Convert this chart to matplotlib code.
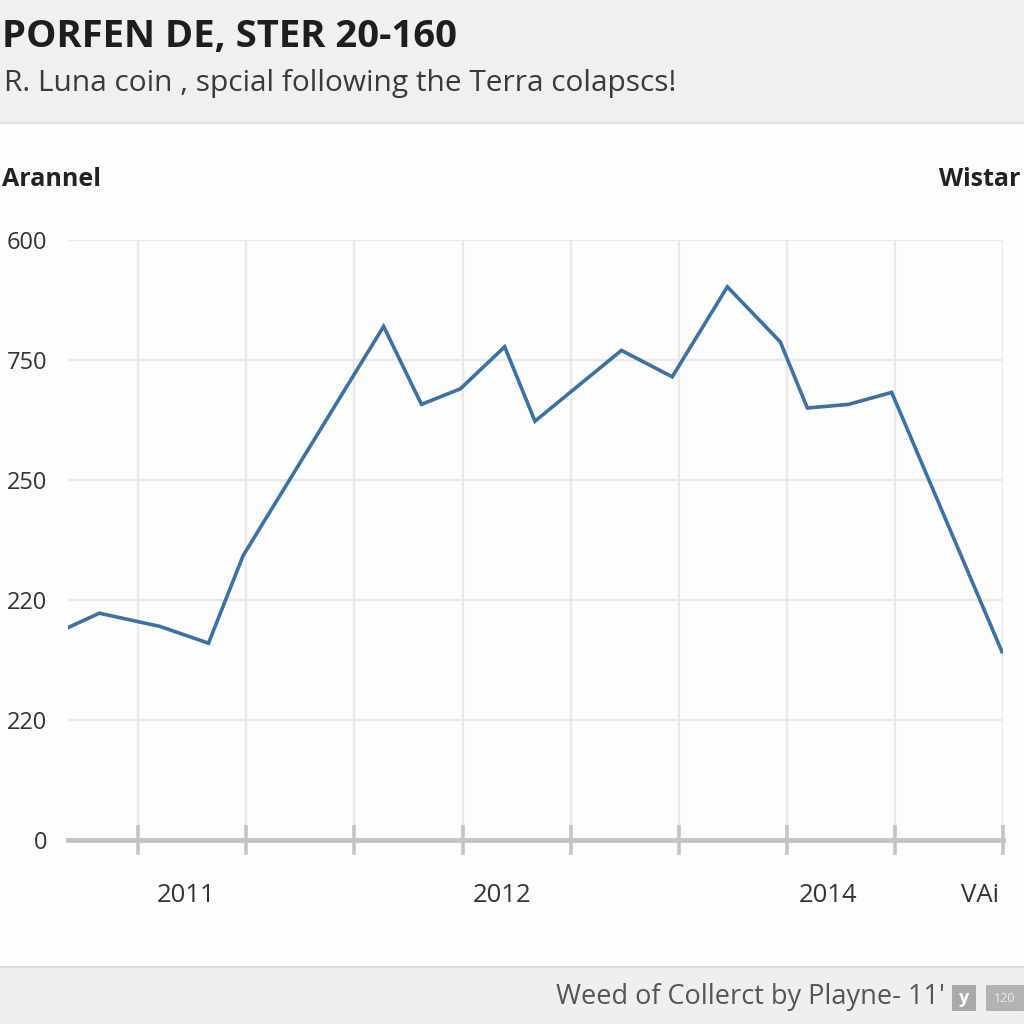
import matplotlib
matplotlib.use("Agg")
from matplotlib import pyplot as plt
from matplotlib import font_manager
from matplotlib.patches import Rectangle, FancyBboxPatch

# data (x in tick periods, y in grid steps)
x_pos = [-0.65, -0.36, 0.20, 0.65, 0.97, 2.27, 2.62, 2.98, 3.39, 3.67,
         4.47, 4.94, 5.45, 5.94, 6.19, 6.57, 6.97, 7.99]
y_val = [1.77, 1.89, 1.78, 1.64, 2.37, 4.28, 3.63, 3.76, 4.11, 3.49,
         4.08, 3.86, 4.61, 4.15, 3.60, 3.63, 3.73, 1.57]

y_labels = ['0', '220', '220', '250', '750', '600']
x_label_pos = [0.44, 3.37, 6.38, 7.79]
x_labels = ['2011', '2012', '2014', 'VAi']

title = "PORFEN DE, STER 20-160"
subtitle = "R. Luna coin , spcial following the Terra colapscs!"
left_head = "Arannel"
right_head = "Wistar"
footer = "Weed of Collerct by Playne- 11'"

names = {f.name for f in font_manager.fontManager.ttflist}
narrow = 'Liberation Sans Narrow' if 'Liberation Sans Narrow' in names else 'Open Sans'
plt.rcParams['font.family'] = [narrow, 'DejaVu Sans']

fig = plt.figure(figsize=(10.24, 10.24), dpi=100)
fig.patch.set_facecolor('#fdfdfd')

# header and footer bands
fig.add_artist(Rectangle((0, 1 - 122 / 1024), 1, 122 / 1024, transform=fig.transFigure,
                         facecolor='#f0f0f0', edgecolor='none', zorder=0))
fig.add_artist(Rectangle((0, 1 - 124 / 1024), 1, 2 / 1024, transform=fig.transFigure,
                         facecolor='#dedede', edgecolor='none', zorder=0))
fig.add_artist(Rectangle((0, 0), 1, 56 / 1024, transform=fig.transFigure,
                         facecolor='#efefef', edgecolor='none', zorder=0))
fig.add_artist(Rectangle((0, 56 / 1024), 1, 2 / 1024, transform=fig.transFigure,
                         facecolor='#d9d9d9', edgecolor='none', zorder=0))

fig.text(0.002, 1 - 37 / 1024, title, fontsize=27.5, fontweight='bold',
         color='#1e1e1e', va='center', ha='left')
fig.text(0.004, 1 - 83 / 1024, subtitle, fontsize=21.5, color='#3a3a3a',
         va='center', ha='left')
fig.text(0.002, 1 - 180 / 1024, left_head, fontsize=18, fontweight='bold',
         color='#222222', va='center', ha='left')
fig.text(0.997, 1 - 180 / 1024, right_head, fontsize=18, fontweight='bold',
         color='#222222', va='center', ha='right')

# footer text and little badges
fig.text(945 / 1024, 1 - 997 / 1024, footer, fontsize=19.5, color='#555555',
         va='center', ha='right')
fig.add_artist(FancyBboxPatch((953 / 1024, 1 - 1010 / 1024), 22 / 1024, 24 / 1024,
                              boxstyle='round,pad=0.001', transform=fig.transFigure,
                              facecolor='#a9a9a9', edgecolor='none'))
fig.text(964 / 1024, 1 - 998 / 1024, 'y', fontsize=13, fontweight='bold',
         color='white', va='center', ha='center')
fig.add_artist(FancyBboxPatch((987 / 1024, 1 - 1010 / 1024), 36 / 1024, 24 / 1024,
                              boxstyle='round,pad=0.001', transform=fig.transFigure,
                              facecolor='#b3b3b3', edgecolor='none'))
fig.text(1005 / 1024, 1 - 998 / 1024, '120', fontsize=9, color='#eeeeee',
         va='center', ha='center')

ax = fig.add_axes([68 / 1024, 184 / 1024, 935 / 1024, 600 / 1024])
ax.set_facecolor('#fdfdfd')
ax.plot(x_pos, y_val, color='#3b72a6', linewidth=2.6, solid_joinstyle='miter', zorder=3)

ax.set_xlim(-0.65, 8.0)
ax.set_ylim(0, 5)
ax.set_yticks(range(len(y_labels)))
ax.set_yticklabels(y_labels)
ax.set_xticks(range(9))
ax.set_xticklabels([])
ax.set_xticks(x_label_pos, minor=True)
ax.set_xticklabels(x_labels, minor=True)

ax.grid(True, color='#e9e9e9', linewidth=1.6, zorder=0)
for s in ['top', 'right', 'left']:
    ax.spines[s].set_visible(False)
ax.spines['bottom'].set_color('#c4c4c4')
ax.spines['bottom'].set_linewidth(3.5)

ax.tick_params(axis='y', length=0, pad=15, labelsize=17, labelcolor='#333333')
ax.tick_params(axis='x', which='major', direction='inout', length=21, width=2.6,
               color='#c4c4c4')
ax.tick_params(axis='x', which='minor', length=0, pad=31, labelsize=18.5,
               labelcolor='#333333')

fig.savefig('out.png', dpi=100, facecolor=fig.get_facecolor())
